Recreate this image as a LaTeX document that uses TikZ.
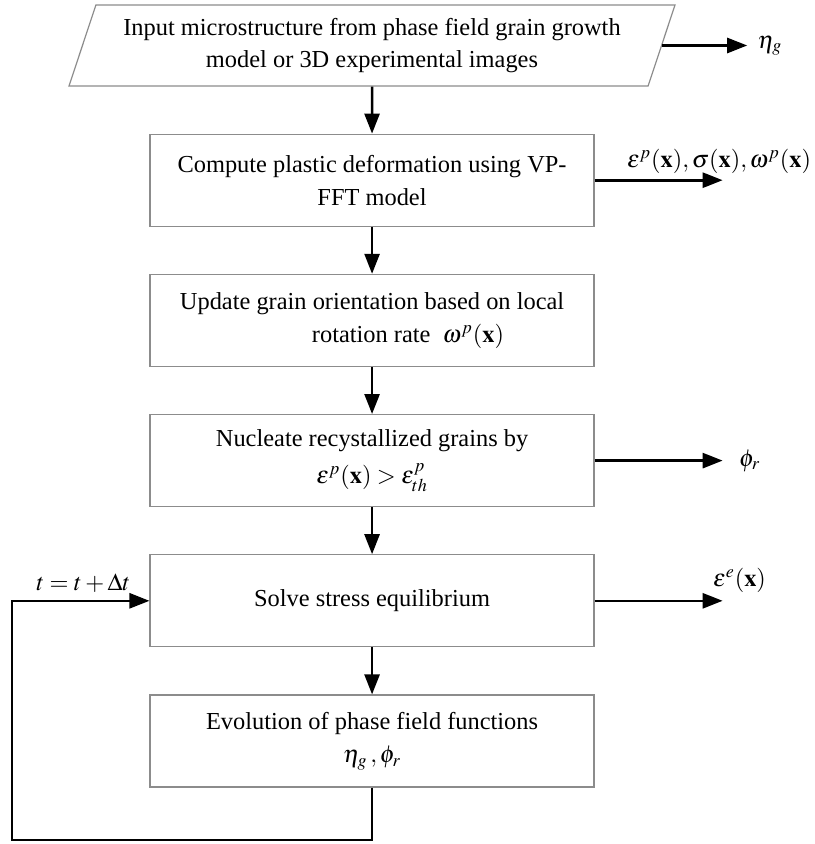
\documentclass[tikz,border=0pt]{standalone}
\usepackage{mathptmx}
\usepackage[no-math]{fontspec}
\setmainfont{Liberation Serif}
\newfontfamily\timesfont{Liberation Serif}
\usepackage{tikz}
\usetikzlibrary{arrows.meta,positioning,shapes.geometric}
\definecolor{edge}{RGB}{140,140,140}

\begin{document}
\begin{tikzpicture}[x=0.5pt,y=-0.5pt,node distance=23.5pt,
  stepbox/.style={draw=edge,line width=0.6pt,minimum width=222pt,minimum height=46pt,
  align=center,inner sep=2pt,font=\timesfont\fontsize{12.2}{16.5}\selectfont},
  inbox/.style={trapezium,trapezium left angle=63.7,trapezium right angle=116.3,
  trapezium stretches body,draw=edge,line width=0.6pt,minimum width=303pt,
  minimum height=40.5pt,inner sep=0pt,align=center,font=\timesfont\fontsize{12.2}{16}\selectfont},
  arr/.style={-{Triangle[length=10pt,width=7.5pt]},line width=1.3pt},
  lbl/.style={inner sep=1pt,font=\timesfont\fontsize{12.2}{15}\selectfont}]
\useasboundingbox (0,0) rectangle (814,844);
\node[inbox] (input) at (372,45.5) {Input microstructure from phase field grain growth\\model or 3D experimental images};
\node[stepbox,below=of input] (plastic) {Compute plastic deformation using VP-\\FFT model};
\node[stepbox,below=of plastic,align=left] (orient) {Update grain orientation based on local\\\hspace*{66pt}rotation rate \ $\omega^{p}(\mathbf{x})$};
\node[stepbox,below=of orient] (nucl) {Nucleate recystallized grains by\\[2pt]$\varepsilon^{p}(\mathbf{x})>\varepsilon^{p}_{th}$};
\node[stepbox,below=of nucl] (solve) {Solve stress equilibrium};
\node[stepbox,below=of solve] (evol) {Evolution of phase field functions\\$\eta_{g}\,,\phi_{r}$};
\draw[arr] (input) -- (plastic);
\draw[arr] (plastic) -- (orient);
\draw[arr] (orient) -- (nucl);
\draw[arr] (nucl) -- (solve);
\draw[arr] (solve) -- (evol);
% outputs on the right
\coordinate[right=42.5pt of input.east] (etaend);
\node[lbl,right=4pt of etaend] (etag) {$\eta_{g}$};
\draw[arr] (input.east) -- (etaend);
\coordinate[right=64pt of plastic.east] (epend);
\node[lbl,above right=2pt and -49pt of epend] (eplbl) {$\varepsilon^{p}(\mathbf{x}),\sigma(\mathbf{x}),\omega^{p}(\mathbf{x})$};
\draw[arr] (plastic.east) -- (epend);
\coordinate[right=64pt of nucl.east] (phiend);
\node[lbl,right=7pt of phiend] (phir) {$\phi_{r}$};
\draw[arr] (nucl.east) -- (phiend);
\coordinate[right=64pt of solve.east] (eeend);
\node[lbl,above right=3pt and -6pt of eeend] (eelbl) {$\varepsilon^{e}(\mathbf{x})$};
\draw[arr] (solve.east) -- (eeend);
% time loop
\coordinate (loopbot) at (12,840);
\coordinate (looptop) at (loopbot |- solve.west);
\node[lbl,above right=3pt and 11pt of looptop] (tlbl) {$t=t+\Delta t$};
\draw[arr] (evol.south) |- (loopbot) -- (looptop) -- (solve.west);
\end{tikzpicture}
\end{document}
